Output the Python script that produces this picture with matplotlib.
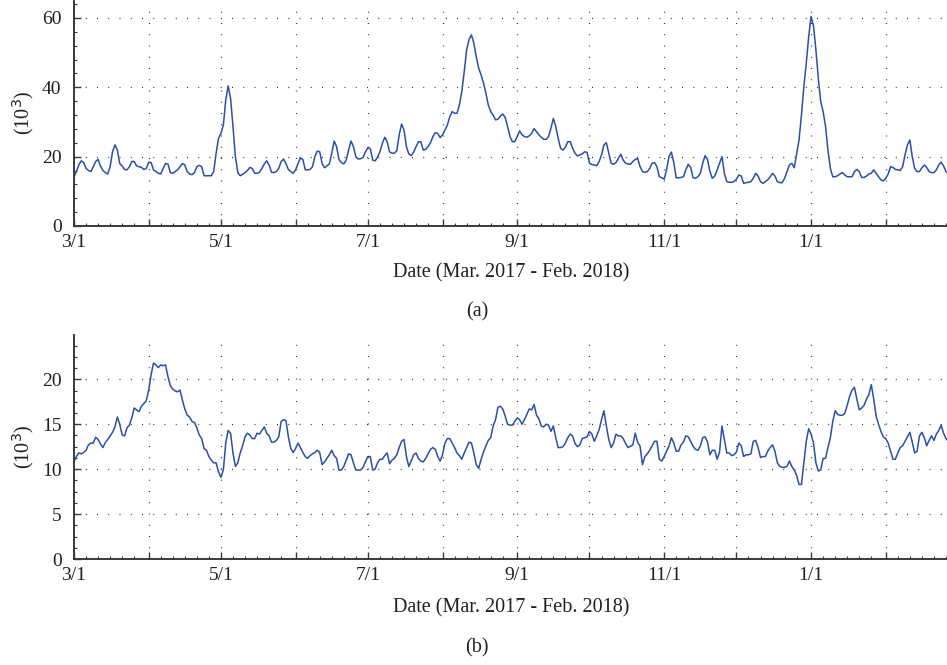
import numpy as np
import pandas as pd
import matplotlib
matplotlib.use("Agg")
import matplotlib.pyplot as plt
import matplotlib.dates as mdates
from matplotlib.ticker import MultipleLocator

plt.rcParams['font.family'] = ['Liberation Serif', 'DejaVu Serif']

# daily counts, thousands, 2017-03-01 .. 2018-02-28
dates = pd.date_range('2017-03-01', '2018-02-28', freq='D')

series_a = [
    14.2, 15.7, 17.6, 18.8, 18.3, 16.6, 16.0, 15.7, 17.1, 18.6,
    19.2, 17.3, 16.0, 15.4, 15.0, 17.1, 21.4, 23.4, 21.9, 18.0,
    17.3, 16.3, 16.2, 17.1, 18.6, 18.6, 17.3, 17.1, 16.9, 16.3,
    16.6, 18.4, 18.3, 16.2, 15.7, 15.2, 15.0, 16.6, 18.0, 17.9,
    15.4, 15.2, 15.7, 16.2, 17.1, 18.0, 17.6, 15.7, 15.0, 14.8,
    15.4, 17.1, 17.5, 17.1, 14.5, 14.5, 14.5, 14.5, 15.7, 21.0,
    25.3, 26.7, 29.1, 36.3, 40.4, 36.8, 28.7, 20.0, 15.4, 14.5,
    14.9, 15.4, 16.0, 16.9, 16.6, 15.2, 15.2, 15.5, 16.6, 17.9,
    18.8, 17.6, 15.5, 15.4, 15.7, 16.6, 18.6, 19.3, 18.0, 16.3,
    15.7, 15.2, 16.2, 18.0, 19.6, 19.2, 16.2, 16.2, 16.3, 17.1,
    20.0, 21.6, 21.4, 18.0, 16.8, 17.3, 17.9, 21.0, 24.5, 22.9,
    19.2, 18.3, 17.9, 19.0, 21.9, 24.5, 22.9, 20.0, 19.3, 19.4,
    19.8, 21.4, 22.6, 22.3, 19.0, 18.8, 19.8, 21.4, 23.8, 25.6,
    24.3, 21.4, 21.0, 21.0, 21.7, 26.3, 29.4, 27.7, 22.9, 20.8,
    20.3, 21.3, 22.9, 24.3, 24.3, 21.9, 22.1, 22.9, 24.0, 25.8,
    26.9, 26.7, 25.5, 26.3, 27.7, 29.1, 31.5, 33.0, 32.5, 32.5,
    34.9, 38.8, 44.5, 50.8, 53.8, 55.1, 52.7, 48.8, 45.5, 43.6,
    41.2, 38.3, 34.9, 33.0, 32.0, 30.6, 30.8, 31.7, 32.3, 31.3,
    28.7, 25.8, 24.3, 24.3, 25.8, 27.4, 26.3, 25.8, 25.6, 26.0,
    26.7, 28.1, 27.2, 26.3, 25.6, 25.0, 25.0, 25.8, 28.2, 31.0,
    28.7, 25.3, 22.4, 21.9, 22.7, 24.3, 24.3, 22.4, 21.0, 20.2,
    20.5, 20.8, 21.4, 21.2, 18.1, 17.7, 17.6, 17.4, 18.6, 20.5,
    23.4, 24.0, 21.0, 18.1, 17.8, 18.3, 19.5, 20.7, 19.0, 18.1,
    17.9, 17.8, 18.6, 19.2, 19.5, 17.1, 15.7, 15.5, 15.7, 16.6,
    18.1, 18.3, 17.1, 14.2, 13.9, 13.5, 16.2, 20.0, 21.3, 18.3,
    13.9, 13.9, 14.0, 14.2, 16.2, 17.8, 16.9, 13.9, 13.75, 14.2,
    15.2, 18.1, 20.3, 19.2, 15.7, 13.75, 14.4, 16.2, 18.1, 20.0,
    15.2, 12.8, 12.6, 12.6, 12.8, 13.5, 14.7, 14.4, 12.3, 12.5,
    12.6, 12.8, 13.75, 15.2, 14.4, 12.8, 12.3, 12.8, 13.3, 14.2,
    15.2, 14.4, 12.8, 12.5, 12.5, 13.75, 15.7, 17.6, 18.1, 16.8,
    20.8, 24.8, 32.0, 40.2, 46.9, 54.6, 60.4, 57.7, 50.8, 42.6,
    35.9, 33.0, 28.7, 21.9, 16.6, 14.2, 14.2, 14.5, 15.0, 15.4,
    14.7, 14.2, 14.2, 14.2, 15.7, 16.3, 15.7, 14.0, 14.0, 14.4,
    15.0, 15.2, 16.2, 15.2, 14.2, 13.3, 13.0, 13.75, 15.0, 17.1,
    16.9, 16.3, 16.2, 16.0, 17.1, 20.5, 23.4, 24.8, 20.0, 16.6,
    15.7, 15.7, 16.8, 17.6, 16.9, 15.7, 15.4, 15.4, 16.2, 17.6,
    18.4, 17.3, 15.7, 15.2, 15.0,
]

series_b = [
    10.8, 11.4, 11.8, 11.7, 11.85, 12.1, 12.7, 12.9, 12.9, 13.55,
    13.3, 12.8, 12.4, 12.96, 13.3, 13.7, 14.1, 14.7, 15.8, 15.0,
    13.8, 13.7, 14.6, 14.9, 15.7, 16.8, 16.6, 16.4, 17.0, 17.3,
    17.6, 18.8, 20.5, 21.8, 21.6, 21.3, 21.6, 21.5, 21.6, 20.3,
    19.3, 18.9, 18.7, 18.6, 18.8, 17.7, 16.7, 16.0, 15.8, 15.3,
    15.2, 14.6, 13.8, 13.4, 12.3, 12.1, 11.4, 11.0, 10.7, 10.7,
    9.7, 9.1, 9.9, 12.9, 14.3, 14.0, 11.8, 10.3, 10.7, 11.8,
    12.6, 13.6, 14.0, 13.8, 13.4, 13.4, 14.0, 13.9, 14.3, 14.7,
    14.0, 13.7, 13.0, 13.0, 13.2, 13.6, 15.3, 15.5, 15.4, 13.6,
    12.3, 11.85, 12.3, 12.9, 12.4, 11.85, 11.4, 11.2, 11.5, 11.7,
    11.85, 12.1, 11.85, 10.5, 10.8, 11.2, 11.6, 12.1, 11.5, 11.2,
    9.9, 9.9, 10.3, 11.0, 11.7, 11.6, 10.7, 9.9, 9.9, 9.9,
    10.2, 10.85, 11.4, 11.4, 9.9, 10.0, 10.7, 11.1, 11.1, 11.5,
    11.8, 10.6, 11.0, 11.2, 11.6, 12.4, 13.1, 13.3, 11.4, 10.3,
    10.9, 11.6, 11.8, 11.2, 10.9, 10.8, 11.2, 11.7, 12.2, 12.4,
    12.2, 11.4, 10.9, 11.6, 12.9, 13.4, 13.4, 12.9, 12.4, 11.8,
    11.5, 11.1, 11.8, 12.4, 13.0, 12.9, 11.8, 10.5, 10.1, 11.1,
    11.9, 12.6, 13.2, 13.5, 14.8, 15.5, 16.9, 17.0, 16.7, 15.9,
    15.0, 14.9, 14.9, 15.3, 15.7, 15.5, 15.0, 15.5, 16.1, 16.7,
    16.6, 17.2, 16.0, 15.6, 14.8, 14.7, 15.0, 14.9, 14.2, 14.8,
    13.5, 12.4, 12.4, 12.5, 12.9, 13.5, 13.9, 13.7, 12.85, 12.5,
    12.7, 13.4, 13.5, 13.6, 14.2, 13.9, 13.1, 13.7, 14.4, 15.5,
    16.5, 14.8, 13.3, 12.4, 12.9, 13.9, 13.7, 13.7, 13.4, 12.85,
    12.4, 12.55, 12.7, 14.0, 13.0, 12.55, 10.5, 11.4, 11.7, 12.1,
    12.6, 13.1, 13.1, 11.1, 10.9, 11.4, 12.0, 12.55, 13.5, 12.9,
    12.0, 12.0, 12.7, 13.0, 13.7, 13.6, 13.1, 12.55, 12.2, 12.1,
    12.55, 13.5, 13.6, 13.0, 11.6, 12.1, 12.1, 11.1, 11.9, 14.8,
    13.3, 11.8, 11.8, 11.5, 11.6, 11.9, 12.9, 12.6, 11.4, 11.6,
    11.6, 11.7, 13.1, 13.2, 12.4, 11.3, 11.4, 11.4, 12.0, 12.4,
    12.7, 12.0, 10.7, 10.3, 10.2, 10.2, 10.3, 10.9, 10.3, 9.9,
    9.3, 8.3, 8.3, 10.7, 13.1, 14.5, 13.9, 12.9, 10.7, 9.8,
    9.9, 11.2, 11.2, 12.4, 13.5, 15.3, 16.5, 16.1, 16.0, 16.0,
    16.2, 17.1, 18.1, 18.8, 19.1, 17.8, 16.6, 16.8, 17.1, 17.8,
    18.3, 19.4, 17.8, 15.9, 15.0, 14.2, 13.6, 13.4, 12.9, 12.0,
    11.1, 11.1, 11.8, 12.4, 12.6, 13.1, 13.6, 14.1, 13.0, 11.8,
    12.0, 13.7, 14.1, 13.5, 12.6, 13.2, 13.7, 13.2, 13.9, 14.3,
    14.9, 14.0, 13.4, 13.1, 13.0,
]

assert len(series_a) == len(dates) and len(series_b) == len(dates)

line_color = '#2b4fa8'
text_color = '#231f20'

fig = plt.figure(figsize=(9.47, 6.65), dpi=100)
W, H = 947.0, 665.0
# axes run a little past the right edge of the figure
ax1 = fig.add_axes([74 / W, 1 - 226 / H, 878 / W, 225.4 / H])
ax2 = fig.add_axes([74 / W, 1 - 559 / H, 878 / W, 223.75 / H])


def month_label(x, pos=None):
    d = mdates.num2date(x)
    return '%d/1' % d.month if d.month % 2 == 1 else ''


for ax, vals, ymax, ystep, yminor in [(ax1, series_a, 65, 20, 4), (ax2, series_b, 24.9, 5, 1.25)]:
    ax.plot(dates, vals, color=line_color, lw=1.1)
    ax.set_xlim(pd.Timestamp('2017-03-01'), pd.Timestamp('2018-02-28 12:00'))
    ax.set_ylim(0, ymax)
    ax.xaxis.set_major_locator(mdates.MonthLocator())
    ax.xaxis.set_major_formatter(plt.FuncFormatter(month_label))
    ax.xaxis.set_minor_locator(mdates.DayLocator(bymonthday=[6, 11, 16, 21, 26]))
    ax.yaxis.set_major_locator(MultipleLocator(ystep))
    ax.yaxis.set_minor_locator(MultipleLocator(yminor))
    ax.grid(True, which='major', color='#333333', linestyle=(0, (0.8, 8.2)), lw=0.9)
    for s in ['top', 'right']:
        ax.spines[s].set_visible(False)
    for s in ['left', 'bottom']:
        ax.spines[s].set_color('#3a3a3a')
        ax.spines[s].set_linewidth(1.4)
    ax.tick_params(which='major', direction='in', length=5, width=1.0, color='#3a3a3a',
                   labelsize=14, labelcolor=text_color)
    ax.tick_params(axis='x', which='major', pad=6)
    ax.tick_params(axis='y', which='major', pad=9)
    ax.tick_params(which='minor', direction='in', length=2.5, width=0.8, color='#3a3a3a')
    ax.set_xlabel('Date (Mar. 2017 - Feb. 2018)', fontsize=14.5, color=text_color)
    ax.set_ylabel('(10$^3$)', fontsize=14.5, color=text_color)
    # y label sits with its right edge about 40 px left of the spine
    ax.yaxis.set_label_coords(-38 / 878.0, 0.5)

ax1.xaxis.set_label_coords(437 / 878.0, -37 / 225.4)
ax2.xaxis.set_label_coords(437 / 878.0, -39 / 223.75)

fig.text(477 / W, 1 - 312 / H, '(a)', ha='center', va='center', fontsize=14.5, color=text_color)
fig.text(477 / W, 1 - 648 / H, '(b)', ha='center', va='center', fontsize=14.5, color=text_color)

fig.savefig('out.png', dpi=100)
